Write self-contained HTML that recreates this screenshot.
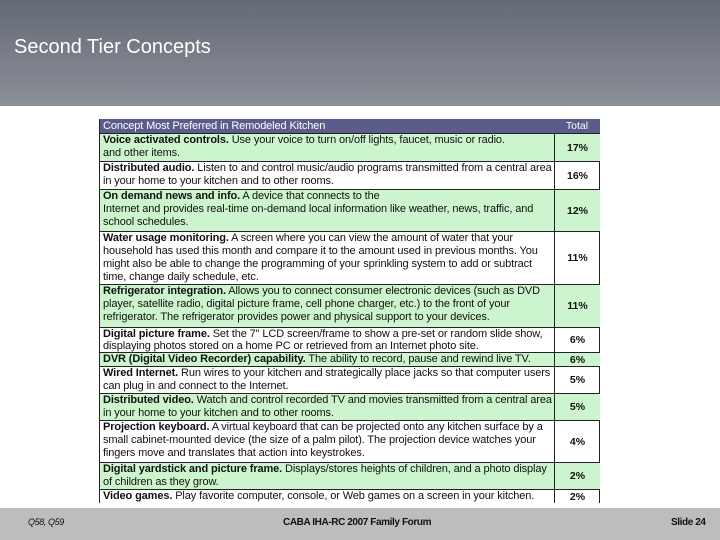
<!DOCTYPE html>
<html><head><meta charset="utf-8"><style>
body{margin:0;width:720px;height:540px;overflow:hidden;background:#fff;font-family:"Liberation Sans",sans-serif;position:relative}
#hdr{position:absolute;left:0;top:0;width:720px;height:106px;background:linear-gradient(#646a76,#8b8f98)}
#title{position:absolute;left:14px;top:36px;color:#fff;font-size:20px}
#ftr{position:absolute;left:0;top:508px;width:720px;height:32px;background:#bdbdbd}
.f{position:absolute;top:517px;font-size:10px;font-weight:bold;color:#111;letter-spacing:-0.4px}
#tbl{position:absolute;left:99px;top:119px;width:501px;height:384px;border-right:1px solid #222;border-left:1px solid #222;box-sizing:border-box}
.row{position:absolute;left:0;width:500px;border-top:1px solid #222;box-sizing:border-box}
.txt{position:absolute;left:3px;width:450px;font-size:11px;line-height:13px;color:#111;top:0px;letter-spacing:-0.12px}
.val{position:absolute;left:454px;width:46px;text-align:center;font-size:10.5px;font-weight:bold;color:#111;border-left:1px solid #222;box-sizing:border-box;height:100%;display:flex;align-items:center;justify-content:center}
.g{background:#cdf5cd}
.hd{background:#5c5c8c;color:#fff;font-size:10.5px}
</style></head><body>
<div id="hdr"><div id="title">Second Tier Concepts</div></div>
<div id="tbl">
<div class="row hd" style="top:0;height:14px;border:none"><div class="txt" style="color:#fff;line-height:14px">Concept Most Preferred in Remodeled Kitchen</div><div class="val" style="font-weight:normal;color:#fff;border-left:none">Total</div></div>
<div class="row g" style="top:14px;height:28px"><div class="txt"><b>Voice activated controls.</b> Use your voice to turn on/off lights, faucet, music or radio.<br>and other items.</div><div class="val">17%</div></div>
<div class="row" style="top:42px;height:28px"><div class="txt"><b>Distributed audio.</b> Listen to and control music/audio programs transmitted from a central area in your home to your kitchen and to other rooms.</div><div class="val">16%</div></div>
<div class="row g" style="top:70px;height:42px"><div class="txt"><b>On demand news and info.</b> A device that connects to the<br>Internet and provides real-time on-demand local information like weather, news, traffic, and school schedules.</div><div class="val">12%</div></div>
<div class="row" style="top:112px;height:53px"><div class="txt"><b>Water usage monitoring.</b> A screen where you can view the amount of water that your household has used this month and compare it to the amount used in previous months. You might also be able to change the programming of your sprinkling system to add or subtract time, change daily schedule, etc.</div><div class="val">11%</div></div>
<div class="row g" style="top:165px;height:43px"><div class="txt"><b>Refrigerator integration.</b> Allows you to connect consumer electronic devices (such as DVD player, satellite radio, digital picture frame, cell phone charger, etc.) to the front of your refrigerator. The refrigerator provides power and physical support to your devices.</div><div class="val">11%</div></div>
<div class="row" style="top:208px;height:25px"><div class="txt" style="line-height:12px"><b>Digital picture frame.</b> Set the 7" LCD screen/frame to show a pre-set or random slide show, displaying photos stored on a home PC or retrieved from an Internet photo site.</div><div class="val">6%</div></div>
<div class="row g" style="top:233px;height:14px"><div class="txt"><b>DVR (Digital Video Recorder) capability.</b> The ability to record, pause and rewind live TV.</div><div class="val">6%</div></div>
<div class="row" style="top:247px;height:27px"><div class="txt"><b>Wired Internet.</b> Run wires to your kitchen and strategically place jacks so that computer users can plug in and connect to the Internet.</div><div class="val">5%</div></div>
<div class="row g" style="top:274px;height:27px"><div class="txt"><b>Distributed video.</b> Watch and control recorded TV and movies transmitted from a central area in your home to your kitchen and to other rooms.</div><div class="val">5%</div></div>
<div class="row" style="top:301px;height:42px"><div class="txt"><b>Projection keyboard.</b> A virtual keyboard that can be projected onto any kitchen surface by a small cabinet-mounted device (the size of a palm pilot). The projection device watches your fingers move and translates that action into keystrokes.</div><div class="val">4%</div></div>
<div class="row g" style="top:343px;height:27px"><div class="txt"><b>Digital yardstick and picture frame.</b> Displays/stores heights of children, and a photo display of children as they grow.</div><div class="val">2%</div></div>
<div class="row" style="top:370px;height:14px"><div class="txt"><b>Video games.</b> Play favorite computer, console, or Web games on a screen in your kitchen.</div><div class="val">2%</div></div>
</div>
<div id="ftr"></div>
<div class="f" style="left:28px;font-weight:normal;font-style:italic;font-size:9px">Q58, Q59</div>
<div class="f" style="left:283px">CABA IHA-RC 2007 Family Forum</div>
<div class="f" style="left:671px">Slide 24</div>
</body></html>
